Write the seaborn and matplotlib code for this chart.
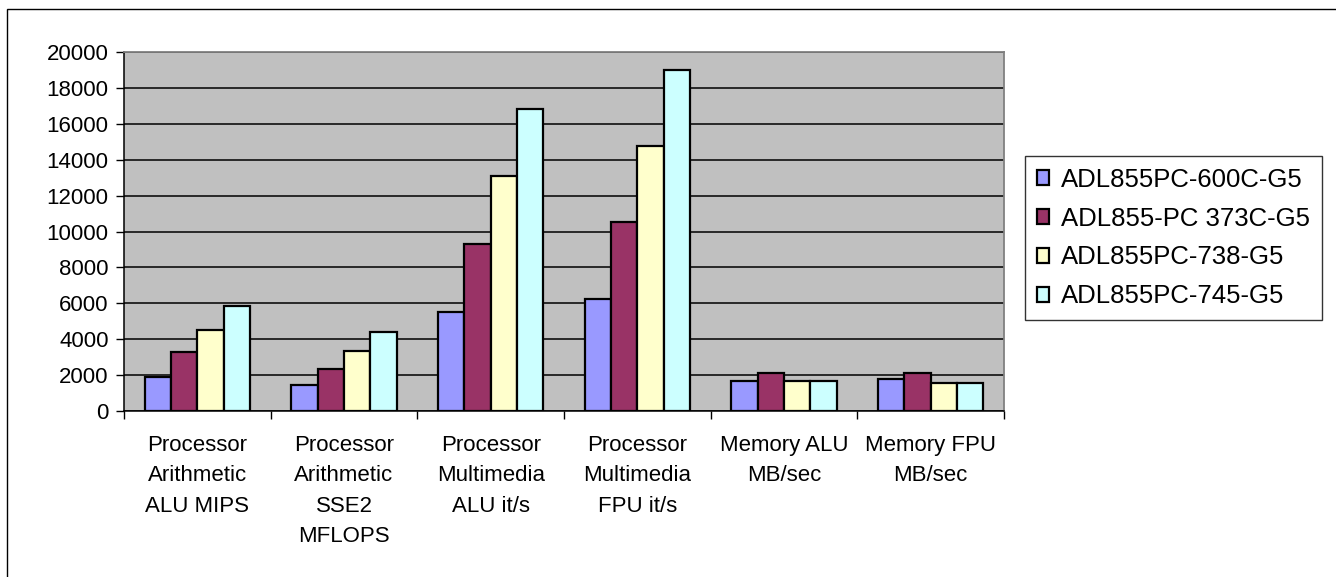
import numpy as np
import pandas as pd
import seaborn as sns
import matplotlib.pyplot as plt
from matplotlib.patches import Rectangle

# Benchmark categories and results per board
categories = ["Processor\nArithmetic\nALU MIPS", "Processor\nArithmetic\nSSE2\nMFLOPS",
              "Processor\nMultimedia\nALU it/s", "Processor\nMultimedia\nFPU it/s",
              "Memory ALU\nMB/sec", "Memory FPU\nMB/sec"]
boards = ["ADL855PC-600C-G5", "ADL855-PC 373C-G5", "ADL855PC-738-G5", "ADL855PC-745-G5"]
adl_600c = [1890, 1450, 5540, 6230, 1670, 1780]
adl_373c = [3260, 2350, 9290, 10550, 2130, 2130]
adl_738 = [4520, 3370, 13070, 14760, 1670, 1560]
adl_745 = [5870, 4390, 16810, 18970, 1670, 1560]
colors = ["#9999FF", "#993366", "#FFFFCC", "#CCFFFF"]

# Long-form table for seaborn
rows = []
for board, vals in zip(boards, [adl_600c, adl_373c, adl_738, adl_745]):
    for cat, v in zip(categories, vals):
        rows.append({"category": cat, "board": board, "value": v})
df = pd.DataFrame(rows)

plt.rcParams['font.family'] = ['Liberation Sans', 'DejaVu Sans']

fig = plt.figure(figsize=(13.36, 5.77), dpi=100)
ax = fig.add_axes([124 / 1336, 1 - 411 / 577, 880 / 1336, 359 / 577])
ax.set_facecolor("#C0C0C0")

sns.barplot(data=df, x="category", y="value", hue="board", palette=colors,
            saturation=1, width=0.72, gap=0, edgecolor="black", linewidth=1.6, ax=ax)

ax.set_ylim(0, 20000)
ax.set_xlim(-0.5, len(categories) - 0.5)
ax.set_yticks(np.arange(0, 20001, 2000))
ax.yaxis.grid(True, color="black", linewidth=1.1)
ax.set_axisbelow(True)
ax.set_xlabel("")
ax.set_ylabel("")

# group separators as minor ticks, labels without tick marks
ax.set_xticks(np.arange(-0.5, len(categories), 1), minor=True)
ax.tick_params(axis="x", which="major", length=0, pad=17, labelsize=16)
ax.tick_params(axis="x", which="minor", length=6, width=1, direction="out")
ax.tick_params(axis="y", length=6, width=1, labelsize=16, pad=5)
for lab in ax.get_xticklabels():
    lab.set_linespacing(1.6)
    lab.set_verticalalignment("top")

for side in ["top", "right"]:
    ax.spines[side].set_color("#808080")
    ax.spines[side].set_linewidth(1.3)
for side in ["left", "bottom"]:
    ax.spines[side].set_color("black")
    ax.spines[side].set_linewidth(1.1)

leg = ax.legend(loc="center left", bbox_to_anchor=(1.0 + 21 / 880, 1 - (238 - 52) / 359),
                frameon=True, fontsize=18.5, handlelength=0.5, handleheight=0.5,
                handletextpad=0.45, labelspacing=0.58, borderpad=0.45, borderaxespad=0,
                fancybox=False)
leg.get_frame().set_edgecolor("black")
leg.get_frame().set_linewidth(1)

# outer chart border (only left and top fall inside the picture)
fig.patches.append(Rectangle((7 / 1336, -10 / 577), 1340 / 1336, 578 / 577, transform=fig.transFigure,
                             fill=False, edgecolor="black", linewidth=1))

fig.savefig("out.png", dpi=100)
